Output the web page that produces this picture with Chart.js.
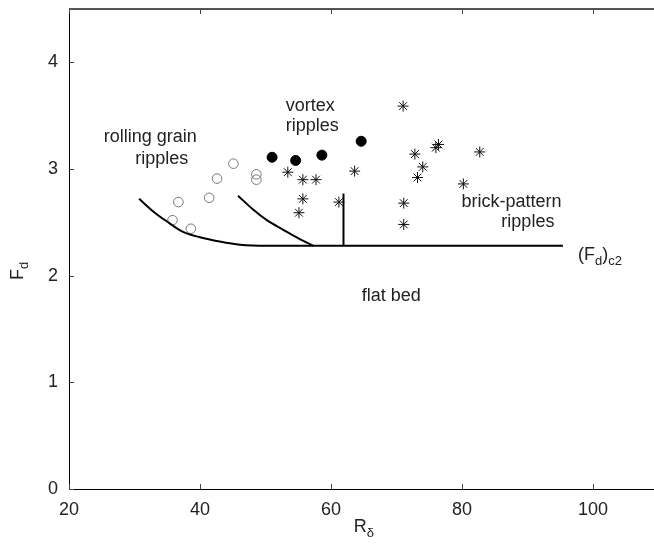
<!DOCTYPE html>
<html>
<head>
<meta charset="utf-8">
<script src="https://cdn.jsdelivr.net/npm/chart.js@4"></script>
<style>
    html, body { margin: 0; padding: 0; background: #fff; }
    #wrap { width: 654px; height: 549px; }
</style>
</head>
<body>
<div id="wrap"><canvas id="chart" width="654" height="549"></canvas></div>
<script>
// rolling grain ripples (open circles)
const rollingR = [35.8, 36.7, 38.6, 41.4, 42.6, 45.1, 48.6, 48.6];
const rollingF = [2.52, 2.69, 2.44, 2.73, 2.91, 3.05, 2.95, 2.90];

// vortex ripples (filled circles)
const vortexR = [51.0, 54.6, 58.6, 64.6];
const vortexF = [3.11, 3.08, 3.13, 3.26];

// brick-pattern ripples (asterisks)
const brickR = [53.4, 55.7, 57.7, 55.7, 55.1, 61.2, 63.6, 71.0, 72.8, 76.4, 76.0, 74.0, 73.2, 82.7, 80.2, 71.1, 71.1];
const brickF = [2.97, 2.90, 2.90, 2.72, 2.59, 2.69, 2.98, 3.59, 3.14, 3.23, 3.20, 3.02, 2.92, 3.16, 2.86, 2.68, 2.48];

// boundary curves
const boundA_R = [30.7, 32.9, 34.9, 37.4, 40.0, 43.0, 46.1, 50.2, 95.4];
const boundA_F = [2.72, 2.60, 2.51, 2.41, 2.36, 2.32, 2.29, 2.28, 2.28];
const boundB_R = [45.8, 48.1, 50.2, 52.7, 55.3, 57.3];
const boundB_F = [2.75, 2.62, 2.52, 2.43, 2.34, 2.28];
const boundC_R = [61.9, 61.9];
const boundC_F = [2.77, 2.28];

const xTicks = [20, 40, 60, 80, 100];
const yTicks = [0, 1, 2, 3, 4];

// region labels, placed in data units
const notes = [
    { x: 32.4, y: 3.30, align: "center", parts: [{ t: "rolling grain" }] },
    { x: 30.1, y: 3.09, align: "left", parts: [{ t: "ripples" }] },
    { x: 53.1, y: 3.59, align: "left", parts: [{ t: "vortex" }] },
    { x: 53.1, y: 3.40, align: "left", parts: [{ t: "ripples" }] },
    { x: 79.9, y: 2.69, align: "left", parts: [{ t: "brick-pattern" }] },
    { x: 86.0, y: 2.50, align: "left", parts: [{ t: "ripples" }] },
    { x: 64.7, y: 1.81, align: "left", parts: [{ t: "flat bed" }] },
    { x: 97.7, y: 2.19, align: "left", parts: [{ t: "(F" }, { t: "d", sub: true }, { t: ")" }, { t: "c2", sub: true }] },
];

const FONT = '"Liberation Sans", Arial, Helvetica, sans-serif';
const TEXT = "#222";

function zip(xs, ys) {
    return xs.map((x, i) => ({ x, y: ys[i] }));
}

function richWidth(ctx, parts) {
    let w = 0;
    parts.forEach(p => {
        ctx.font = p.sub ? `13px ${FONT}` : `18px ${FONT}`;
        w += ctx.measureText(p.t).width;
    });
    return w;
}

function drawRich(ctx, parts, x, y, align) {
    let cx = x;
    if (align === "center") cx = x - richWidth(ctx, parts) / 2;
    ctx.textBaseline = "middle";
    ctx.textAlign = "left";
    parts.forEach(p => {
        ctx.font = p.sub ? `13px ${FONT}` : `18px ${FONT}`;
        ctx.fillText(p.t, cx, p.sub ? y + 6 : y);
        cx += ctx.measureText(p.t).width;
    });
}

const decorPlugin = {
    id: "decor",
    afterDraw(chart) {
        const { ctx, chartArea: a } = chart;
        const xs = chart.scales.x;
        const ys = chart.scales.y;
        ctx.save();

        // top frame line
        ctx.strokeStyle = "#555";
        ctx.lineWidth = 2;
        ctx.beginPath();
        ctx.moveTo(a.left, a.top);
        ctx.lineTo(a.right, a.top);
        ctx.stroke();

        // inward tick marks
        ctx.strokeStyle = "#444";
        ctx.lineWidth = 1;
        ctx.beginPath();
        xTicks.forEach(v => {
            const px = Math.round(xs.getPixelForValue(v)) + 0.5;
            ctx.moveTo(px, a.bottom);
            ctx.lineTo(px, a.bottom - 5);
            ctx.moveTo(px, a.top);
            ctx.lineTo(px, a.top + 5);
        });
        yTicks.forEach(v => {
            const py = Math.round(ys.getPixelForValue(v)) + 0.5;
            ctx.moveTo(a.left, py);
            ctx.lineTo(a.left + 5, py);
        });
        ctx.stroke();

        // region labels
        ctx.fillStyle = TEXT;
        notes.forEach(n => {
            drawRich(ctx, n.parts, xs.getPixelForValue(n.x), ys.getPixelForValue(n.y), n.align);
        });

        // axis titles (R centred under the full 20-110 axis)
        drawRich(ctx, [{ t: "R" }, { t: "δ", sub: true }], xs.getPixelForValue(65), 527, "center");
        ctx.translate(18, (a.top + a.bottom) / 2 + 22);
        ctx.rotate(-Math.PI / 2);
        drawRich(ctx, [{ t: "F" }, { t: "d", sub: true }], 0, 0, "center");
        ctx.restore();
    },
};

const lineStyle = {
    showLine: true,
    pointRadius: 0,
    borderColor: "#000",
    borderWidth: 2,
    cubicInterpolationMode: "monotone",
    fill: false,
};

new Chart(document.getElementById("chart"), {
    type: "scatter",
    data: {
        datasets: [
            { ...lineStyle, data: zip(boundA_R, boundA_F) },
            { ...lineStyle, data: zip(boundB_R, boundB_F) },
            { ...lineStyle, data: zip(boundC_R, boundC_F) },
            {
                data: zip(rollingR, rollingF),
                pointStyle: "circle",
                pointRadius: 4.8,
                borderColor: "#777",
                backgroundColor: "rgba(0,0,0,0)",
                borderWidth: 1,
            },
            {
                data: zip(vortexR, vortexF),
                pointStyle: "circle",
                pointRadius: 5,
                borderColor: "#000",
                backgroundColor: "#000",
                borderWidth: 1,
            },
            {
                data: zip(brickR, brickF),
                pointStyle: "star",
                pointRadius: 5.5,
                borderColor: "#111",
                borderWidth: 1,
            },
        ],
    },
    options: {
        responsive: false,
        animation: false,
        devicePixelRatio: 1,
        layout: { autoPadding: false, padding: { top: 9, left: 0, right: 0, bottom: 0 } },
        plugins: { legend: { display: false }, tooltip: { enabled: false } },
        scales: {
            x: {
                type: "linear",
                min: 20,
                max: 109.3,
                grid: { display: false, drawTicks: false },
                border: { display: true, color: "#000", width: 1 },
                ticks: { color: TEXT, font: { family: FONT, size: 18 }, padding: 10, maxRotation: 0 },
                afterBuildTicks(scale) {
                    scale.ticks = xTicks.map(v => ({ value: v }));
                },
                afterFit(scale) {
                    scale.height = 60;
                    scale.paddingLeft = 0;
                    scale.paddingRight = 0;
                },
            },
            y: {
                type: "linear",
                min: 0,
                max: 4.5,
                grid: { display: false, drawTicks: false },
                border: { display: true, color: "#000", width: 1 },
                ticks: { color: TEXT, font: { family: FONT, size: 18 }, padding: 11 },
                afterBuildTicks(scale) {
                    scale.ticks = yTicks.map(v => ({ value: v }));
                },
                afterFit(scale) {
                    scale.width = 69;
                    scale.paddingTop = 0;
                    scale.paddingBottom = 0;
                },
            },
        },
    },
    plugins: [decorPlugin],
});
</script>
</body>
</html>
